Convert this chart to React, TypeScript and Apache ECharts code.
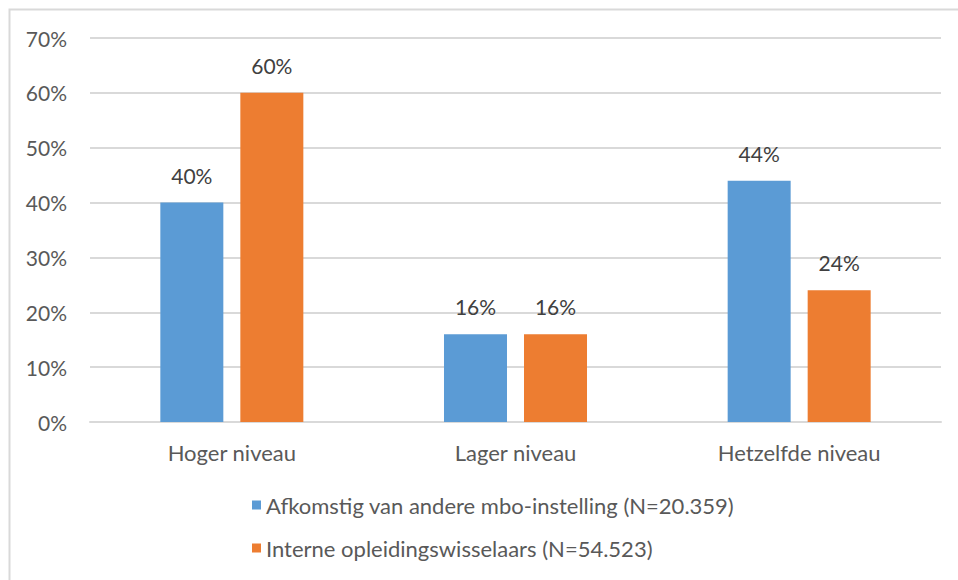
import React, { useEffect, useRef } from "react";
import * as echarts from "echarts";

const categories = ["Hoger niveau", "Lager niveau", "Hetzelfde niveau"];
const seriesNames = [
  "Afkomstig van andere mbo-instelling (N=20.359)",
  "Interne opleidingswisselaars (N=54.523)",
];
const afkomstig = [40, 16, 44];
const intern = [60, 16, 24];
const colors = ["#5b9bd5", "#ed7d31"];

export default function App() {
  const ref = useRef<HTMLDivElement>(null);
  useEffect(() => {
    if (!ref.current) return;
    const chart = echarts.init(ref.current, null, { renderer: "svg" });
    const font = "Lato";
    const label = {
      show: true,
      position: "top" as const,
      distance: 17,
      formatter: (p: any) => p.value + "%",
      color: "#404040",
      fontSize: 21,
      fontFamily: font,
    };
    chart.setOption({
      animation: false,
      backgroundColor: "#ffffff",
      graphic: [
        {
          type: "rect",
          shape: { x: 9.5, y: 9.5, width: 1000, height: 1000 },
          style: { fill: "none", stroke: "#d9d9d9", lineWidth: 2 },
          silent: true,
        },
      ],
      grid: { left: 90, right: 17, top: 38, bottom: 158, containLabel: false },
      legend: {
        orient: "vertical",
        left: 247,
        top: 489,
        itemWidth: 9,
        itemHeight: 9,
        itemGap: 21,
        icon: "rect",
        textStyle: { color: "#595959", fontSize: 22, fontFamily: font },
        data: seriesNames,
      },
      xAxis: {
        type: "category",
        data: categories,
        axisLine: { show: true, lineStyle: { color: "#d9d9d9", width: 2 } },
        axisTick: { show: false },
        axisLabel: { color: "#595959", fontSize: 22, fontFamily: font, margin: 19 },
      },
      yAxis: {
        type: "value",
        min: 0,
        max: 70,
        interval: 10,
        axisLine: { show: false },
        axisTick: { show: false },
        splitLine: { lineStyle: { color: "#d9d9d9", width: 2 } },
        axisLabel: {
          color: "#595959",
          fontSize: 21,
          fontFamily: font,
          margin: 23,
          formatter: "{value}%",
        },
      },
      series: [
        {
          name: seriesNames[0],
          type: "bar",
          data: afkomstig,
          barWidth: 63,
          barGap: "27%",
          itemStyle: { color: colors[0] },
          label,
        },
        {
          name: seriesNames[1],
          type: "bar",
          data: intern,
          barWidth: 63,
          barGap: "27%",
          itemStyle: { color: colors[1] },
          label,
        },
      ],
    });
    return () => chart.dispose();
  }, []);
  return (
    <div
      ref={ref}
      style={{ position: "fixed", left: 0, top: 0, width: 958, height: 580 }}
    />
  );
}
